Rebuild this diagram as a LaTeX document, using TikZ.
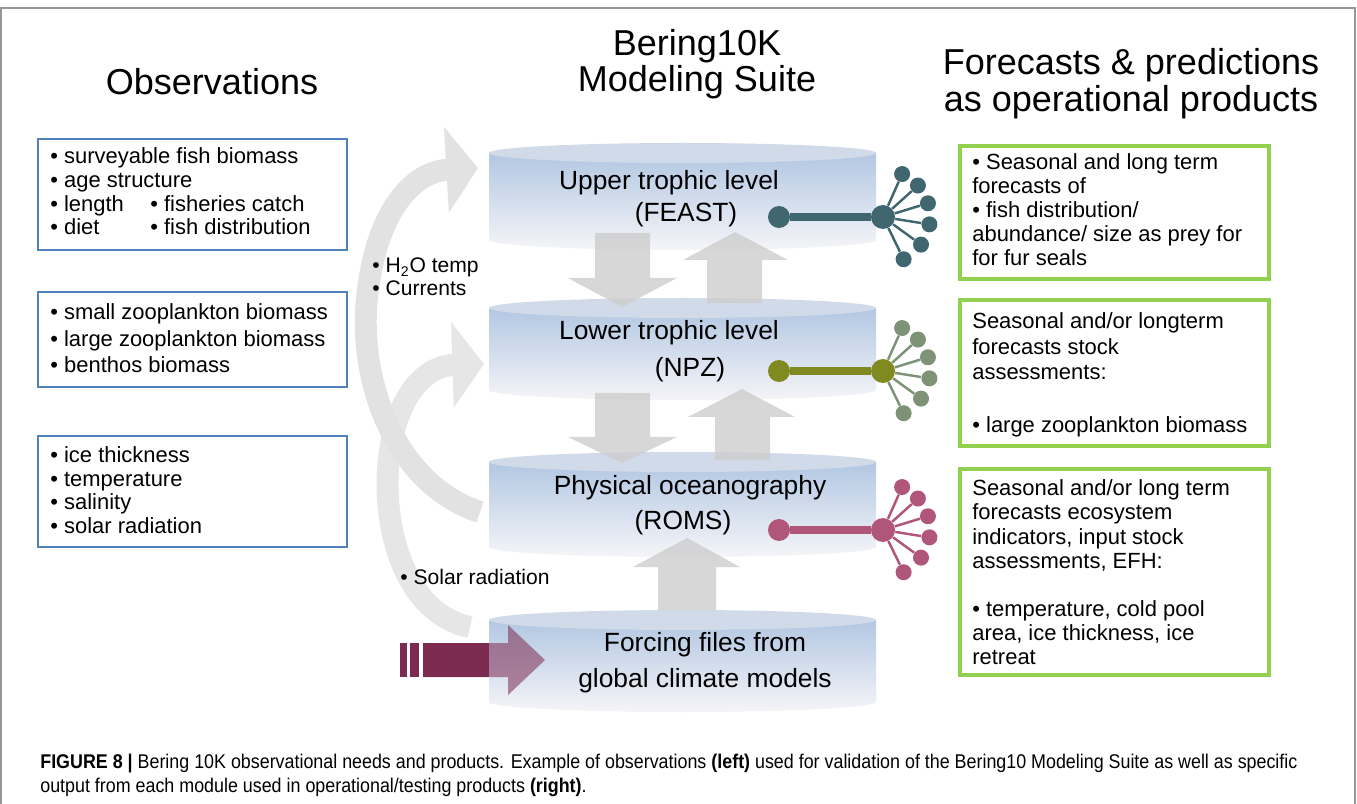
\documentclass[tikz,border=0pt]{standalone}
\usepackage{fontspec}
\setmainfont{Liberation Sans}
\newfontfamily\capfont[FakeStretch=0.9]{Liberation Sans}
\usetikzlibrary{arrows.meta}

\definecolor{obsblue}{RGB}{79,129,189}
\definecolor{prodgreen}{RGB}{146,208,80}
\definecolor{feastcol}{RGB}{64,102,112}
\definecolor{npzcol}{RGB}{128,138,32}
\definecolor{npzleaf}{RGB}{126,146,118}
\definecolor{romscol}{RGB}{176,86,122}
\definecolor{blockgray}{RGB}{205,205,205}
\definecolor{curvegray}{RGB}{226,226,226}
\definecolor{forcecol}{RGB}{125,42,80}
\definecolor{cyltop}{RGB}{208,218,233}
\definecolor{cylblue}{RGB}{178,199,226}
\definecolor{cylwhite}{RGB}{245,245,248}
\definecolor{framegray}{RGB}{150,150,150}

\tikzset{
  headtext/.style={font=\fontsize{20.5}{24}\selectfont, inner sep=0pt, anchor=base},
  cyltext/.style={font=\fontsize{15}{18}\selectfont, inner sep=0pt, anchor=base},
  boxtext/.style={font=\fontsize{12.5}{15}\selectfont, inner sep=0pt, anchor=base west},
  sidetext/.style={font=\fontsize{12}{14}\selectfont, inner sep=0pt, anchor=base west},
  captext/.style={font=\capfont\fontsize{11.3}{13}\selectfont, inner sep=0pt, anchor=base west},
  obsbox/.style={draw=obsblue, line width=1.7pt},
  prodbox/.style={draw=prodgreen, line width=2.3pt},
  blockarrow/.style={fill=blockgray, fill opacity=0.8},
  curvearrow/.style={draw=curvegray, line width=12.5pt,
    -{Triangle[length=18pt, width=48pt]}},
  hubdot/.style={circle, inner sep=0pt, minimum size=0.48cm},
  enddot/.style={circle, inner sep=0pt, minimum size=0.44cm},
  leafdot/.style={circle, inner sep=0pt, minimum size=0.32cm},
  stem/.style={line width=4pt},
  spoke/.style={line width=1.4pt}
}

% top y, bottom y
\newcommand{\cylinder}[2]{
  \shade [top color=cylblue, bottom color=cylwhite]
    (489,#1+10) -- (489,#2-10)
    arc [start angle=180, end angle=0, x radius=193.5, y radius=10]
    -- (876,#1+10) -- cycle;
  \fill [cyltop] (682.5,#1+10) ellipse [x radius=193.5, y radius=10];
}

\begin{document}
\begin{tikzpicture}[x=0.02cm, y=-0.02cm]
  \useasboundingbox (0,0) rectangle (1357,804);
  \fill [white] (0,0) rectangle (1357,804);
  \draw [framegray, line width=0.6pt] (1,804) -- (1,8) -- (1355,8) -- (1355,804);

  % titles
  \node [headtext] (obstitle) at (212,95) {Observations};
  \node [headtext] (suitetitle) at (697,56) {Bering10K};
  \node [headtext] (suitetitle2) at (697,92) {Modeling Suite};
  \node [headtext] (prodtitle) at (1131,75) {Forecasts \& predictions};
  \node [headtext] (prodtitle2) at (1131,112) {as operational products};

  % curved arrows on the left
  \draw [curvearrow] (480,512) .. controls (405,488) and (362,400) .. (366,310)
    .. controls (372,220) and (408,172) .. (478,168);
  \begin{scope}[transparency group, opacity=0.85]
    \draw [curvearrow] (470,627) .. controls (410,615) and (384,540) .. (388,470)
      .. controls (392,405) and (420,366) .. (484,364);
  \end{scope}

  % model layers
  \cylinder{143}{250}
  \cylinder{298}{400}
  \cylinder{452}{557}
  \cylinder{610}{712}

  % arrows between layers
  \fill [blockarrow] (595,233) -- (650,233) -- (650,278) -- (677,278) -- (622,307)
    -- (568,278) -- (595,278) -- cycle;
  \fill [blockarrow] (707,303) -- (762,303) -- (762,260) -- (788,260) -- (735,232)
    -- (683,260) -- (707,260) -- cycle;
  \fill [blockarrow] (595,393) -- (650,393) -- (650,437) -- (677,437) -- (622,463)
    -- (568,437) -- (595,437) -- cycle;
  \fill [blockarrow] (715,460) -- (770,460) -- (770,417) -- (795,417) -- (742,389)
    -- (688,417) -- (715,417) -- cycle;
  \fill [blockarrow] (658,610) -- (716,610) -- (716,567) -- (740,567) -- (687,538)
    -- (633,567) -- (658,567) -- cycle;

  % forcing input
  \fill [forcecol, fill opacity=0.55] (423,643) -- (508,643) -- (508,625) -- (545,660)
    -- (508,695) -- (508,677) -- (423,677) -- cycle;
  \fill [forcecol] (423,643) rectangle (489,677);
  \fill [forcecol] (400,643) rectangle (407,677);
  \fill [forcecol] (410,643) rectangle (419,677);

  \node [cyltext] (feast1) at (669,190) {Upper trophic level};
  \node [cyltext] (feast2) at (686,222) {(FEAST)};
  \node [cyltext] (npz1) at (669,340) {Lower trophic level};
  \node [cyltext] (npz2) at (690,377) {(NPZ)};
  \node [cyltext] (roms1) at (690,495) {Physical oceanography};
  \node [cyltext] (roms2) at (683,529) {(ROMS)};
  \node [cyltext] (force1) at (705,651) {Forcing files from};
  \node [cyltext] (force2) at (705,687) {global climate models};

  \node [sidetext] (h2o) at (372,273) {• H\textsubscript{2}O temp};
  \node [sidetext] (curr) at (372,296) {• Currents};
  \node [sidetext] (solar) at (400,584) {• Solar radiation};

  % observations
  \draw [obsbox] (38,139) rectangle (347,250);
  \draw [obsbox] (38,292) rectangle (347,387);
  \draw [obsbox] (38,436) rectangle (347,547);
  \node [boxtext] (oa1) at (50,164) {• surveyable fish biomass};
  \node [boxtext] (oa2) at (50,188) {• age structure};
  \node [boxtext] (oa3) at (50,212) {• length};
  \node [boxtext] (oa4) at (150,212) {• fisheries catch};
  \node [boxtext] (oa5) at (50,235) {• diet};
  \node [boxtext] (oa6) at (150,235) {• fish distribution};
  \foreach \txt/\yy [count=\i] in {{• small zooplankton biomass}/320,
      {• large zooplankton biomass}/347, {• benthos biomass}/373}
    \node [boxtext] (ob\i) at (50,\yy) {\txt};
  \foreach \txt/\yy [count=\i] in {{• ice thickness}/462, {• temperature}/486,
      {• salinity}/509, {• solar radiation}/533}
    \node [boxtext] (oc\i) at (50,\yy) {\txt};

  % products
  \draw [prodbox] (960,146) rectangle (1269,279);
  \draw [prodbox] (960,300) rectangle (1269,446);
  \draw [prodbox] (960,469) rectangle (1269,675);
  \foreach \txt/\yy [count=\i] in {{• Seasonal and long term}/170, {forecasts of}/194,
      {• fish distribution/}/218, {abundance/ size as prey for}/242, {for fur seals}/266}
    \node [boxtext] (pa\i) at (972,\yy) {\txt};
  \foreach \txt/\yy [count=\i] in {{Seasonal and/or longterm}/329, {forecasts stock}/355,
      {assessments:}/380, {• large zooplankton biomass}/433}
    \node [boxtext] (pb\i) at (972,\yy) {\txt};
  \foreach \txt/\yy [count=\i] in {{Seasonal and/or long term}/496, {forecasts ecosystem}/520,
      {indicators, input stock}/544, {assessments, EFH:}/568, {• temperature, cold pool}/616,
      {area, ice thickness, ice}/640, {retreat}/664}
    \node [boxtext] (pc\i) at (972,\yy) {\txt};

  % outputs of each layer
  \foreach \lvl/\yy/\cmain/\cleaf in {feast/217/feastcol/feastcol, npz/371/npzcol/npzleaf,
      roms/530/romscol/romscol} {
    \node [hubdot, fill=\cmain] (\lvl-hub) at (883,\yy) {};
    \node [enddot, fill=\cmain] (\lvl-end) at (779,\yy) {};
    \draw [stem, draw=\cmain] (\lvl-end) -- (\lvl-hub);
    \foreach \a [count=\i] in {-66,-42,-17,9,36,64} {
      \path (\lvl-hub) ++(\a:47) node [leafdot, fill=\cleaf] (\lvl-leaf\i) {};
      \draw [spoke, draw=\cleaf] (\lvl-hub) -- (\lvl-leaf\i);
    }
  }

  % caption
  \node [captext] (cap1) at (40,768)
    {\textbf{FIGURE 8 |} Bering 10K observational needs and products. Example of observations \textbf{(left)} used for validation of the Bering10 Modeling Suite as well as specific};
  \node [captext] (cap2) at (40,792)
    {output from each module used in operational/testing products \textbf{(right)}.};
\end{tikzpicture}
\end{document}
